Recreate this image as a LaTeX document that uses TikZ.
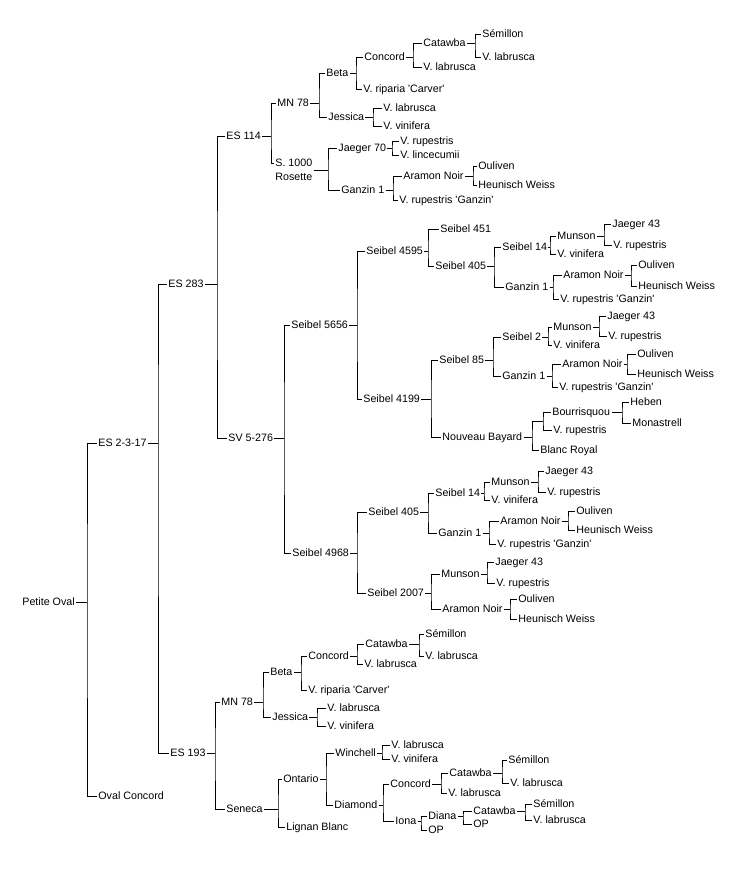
\documentclass[tikz,border=0pt]{standalone}
\usepackage{fontspec}
\setmainfont{Liberation Sans}[Ligatures=TeXOff]
\newcommand\gnode[4]{\node[lbl] (#1) at (#2-1,-#3) {#4};}
\newcommand\gfam[4]{%
  \coordinate (#1x) at (#2,0);
  \draw (#1.east) -- (#1.east -| #1x);
  \draw (#3.west) -| (#1.east -| #1x) |- (#4.west);}
\begin{document}
\begin{tikzpicture}[x=1pt,y=1pt,line width=0.8pt,
  lbl/.style={anchor=west,inner xsep=1pt,inner ysep=0pt,text height=7.8pt,text depth=0.2pt,font=\fontsize{10.7}{14}\selectfont},
  lbltwo/.style={anchor=west,inner xsep=1pt,inner ysep=0pt,align=left,font=\fontsize{10.7}{14}\selectfont}]
\fill[white] (0,0) rectangle (750,-875);
\useasboundingbox (0,0) rectangle (750,-875);
% root
\gnode{po}{22}{602}{Petite Oval}
\gnode{es2317}{98}{443}{ES 2-3-17}
\gnode{ovalc}{98}{796}{Oval Concord}
\gnode{es283}{168}{284}{ES 283}
\gnode{es193}{170}{753}{ES 193}
\gnode{es114}{226}{136}{ES 114}
\gnode{sv}{228}{438}{SV 5-276}
% ES 114 subtree
\gnode{mnA}{277}{103}{MN 78}
\node[lbltwo] (s1000) at (275-1,-170) {S. 1000\\Rosette};
\gnode{betaA}{326}{73}{Beta}
\gnode{jesA}{328}{117}{Jessica}
\gnode{concA}{364}{57}{Concord}
\gnode{ripA}{363}{89}{V. riparia 'Carver'}
\gnode{catA}{423}{43}{Catawba}
\gnode{labAa}{423}{67}{V. labrusca}
\gnode{semA}{482}{34}{Sémillon}
\gnode{labAb}{482}{57}{V. labrusca}
\gnode{labAc}{383}{108}{V. labrusca}
\gnode{vinA}{383}{126}{V. vinifera}
\gnode{jsev}{338}{148}{Jaeger 70}
\gnode{ganA}{341}{190}{Ganzin 1}
\gnode{rupA}{400}{141}{V. rupestris}
\gnode{linA}{400}{155}{V. lincecumii}
\gnode{aramA}{403}{176}{Aramon Noir}
\gnode{rgA}{399}{200}{V. rupestris 'Ganzin'}
\gnode{oulA}{478}{166}{Ouliven}
\gnode{heuA}{478}{185}{Heunisch Weiss}
% SV 5-276 subtree
\gnode{sfivesix}{291}{325}{Seibel 5656}
\gnode{sfournine}{292}{553}{Seibel 4968}
\gnode{sfourfive}{366}{251}{Seibel 4595}
\gnode{sfourone}{363}{399}{Seibel 4199}
\gnode{sfourfiveone}{440}{229}{Seibel 451}
\gnode{sfourohB}{435}{266}{Seibel 405}
\gnode{sfourteenB}{502}{247}{Seibel 14}
\gnode{ganB}{505}{287}{Ganzin 1}
\gnode{munB}{557}{236}{Munson}
\gnode{vinB}{557}{254}{V. vinifera}
\gnode{jfB}{612}{224}{Jaeger 43}
\gnode{rupB}{613}{245}{V. rupestris}
\gnode{aramB}{563}{275}{Aramon Noir}
\gnode{rgB}{560}{299}{V. rupestris 'Ganzin'}
\gnode{oulB}{638}{265}{Ouliven}
\gnode{heuB}{638}{286}{Heunisch Weiss}
\gnode{seightyfive}{439}{360}{Seibel 85}
\gnode{nb}{442}{437}{Nouveau Bayard}
\gnode{stwoC}{502}{337}{Seibel 2}
\gnode{ganC}{502}{376}{Ganzin 1}
\gnode{munC}{553}{327}{Munson}
\gnode{vinC}{553}{345}{V. vinifera}
\gnode{jfC}{607}{316}{Jaeger 43}
\gnode{rupC}{608}{336}{V. rupestris}
\gnode{aramC}{562}{364}{Aramon Noir}
\gnode{rgC}{559}{387}{V. rupestris 'Ganzin'}
\gnode{oulC}{637}{354}{Ouliven}
\gnode{heuC}{637}{374}{Heunisch Weiss}
\gnode{bour}{552}{412}{Bourrisquou}
\gnode{rupD}{553}{430}{V. rupestris}
\gnode{blanc}{540}{450}{Blanc Royal}
\gnode{heben}{630}{402}{Heben}
\gnode{monas}{632}{423}{Monastrell}
\gnode{sfourohE}{368}{512}{Seibel 405}
\gnode{stwok}{367}{593}{Seibel 2007}
\gnode{sfourteenE}{435}{493}{Seibel 14}
\gnode{ganE}{438}{533}{Ganzin 1}
\gnode{munE}{491}{482}{Munson}
\gnode{vinE}{491}{500}{V. vinifera}
\gnode{jfE}{545}{471}{Jaeger 43}
\gnode{rupE}{547}{492}{V. rupestris}
\gnode{aramE}{500}{521}{Aramon Noir}
\gnode{rgE}{497}{544}{V. rupestris 'Ganzin'}
\gnode{oulE}{576}{511}{Ouliven}
\gnode{heuE}{576}{530}{Heunisch Weiss}
\gnode{munF}{441}{574}{Munson}
\gnode{aramF}{442}{609}{Aramon Noir}
\gnode{jfF}{495}{562}{Jaeger 43}
\gnode{rupF}{496}{583}{V. rupestris}
\gnode{oulF}{518}{599}{Ouliven}
\gnode{heuF}{518}{619}{Heunisch Weiss}
% ES 193 subtree
\gnode{mnG}{221}{702}{MN 78}
\gnode{seneca}{226}{809}{Seneca}
\gnode{betaG}{270}{672}{Beta}
\gnode{jesG}{272}{717}{Jessica}
\gnode{concG}{308}{656}{Concord}
\gnode{ripG}{308}{690}{V. riparia 'Carver'}
\gnode{catG}{365}{644}{Catawba}
\gnode{labGa}{364}{664}{V. labrusca}
\gnode{semG}{425}{634}{Sémillon}
\gnode{labGb}{425}{656}{V. labrusca}
\gnode{labGc}{327}{708}{V. labrusca}
\gnode{vinG}{327}{726}{V. vinifera}
\gnode{ont}{283}{779}{Ontario}
\gnode{lignan}{286}{827}{Lignan Blanc}
\gnode{winch}{335}{753}{Winchell}
\gnode{diam}{334}{805}{Diamond}
\gnode{labH}{391}{745}{V. labrusca}
\gnode{vinH}{391}{759}{V. vinifera}
\gnode{concH}{390}{784}{Concord}
\gnode{iona}{395}{821}{Iona}
\gnode{catH}{449}{773}{Catawba}
\gnode{labHa}{448}{793}{V. labrusca}
\gnode{semH}{508}{760}{Sémillon}
\gnode{labHb}{510}{783}{V. labrusca}
\gnode{diana}{428}{816}{Diana}
\gnode{opI}{428}{830}{OP}
\gnode{catI}{473}{811}{Catawba}
\gnode{opJ}{473}{824}{OP}
\gnode{semI}{533}{804}{Sémillon}
\gnode{labI}{533}{820}{V. labrusca}
% families
\gfam{po}{87}{es2317}{ovalc}
\gfam{es2317}{158}{es283}{es193}
\gfam{es283}{217}{es114}{sv}
\coordinate (es114x) at (271,0);
\draw (es114.east) -- (es114.east -| es114x);
\draw (mnA.west) -| (es114.east -| es114x) |- ([yshift=7pt]s1000.west);
\gfam{mnA}{319}{betaA}{jesA}
\gfam{betaA}{356}{concA}{ripA}
\gfam{concA}{413}{catA}{labAa}
\gfam{catA}{475}{semA}{labAb}
\gfam{jesA}{373}{labAc}{vinA}
\gfam{s1000}{328}{jsev}{ganA}
\gfam{jsev}{392}{rupA}{linA}
\gfam{ganA}{393}{aramA}{rgA}
\gfam{aramA}{473}{oulA}{heuA}
\gfam{sv}{284}{sfivesix}{sfournine}
\gfam{sfivesix}{357}{sfourfive}{sfourone}
\gfam{sfourfive}{428}{sfourfiveone}{sfourohB}
\gfam{sfourohB}{494}{sfourteenB}{ganB}
\gfam{sfourteenB}{550}{munB}{vinB}
\gfam{munB}{604}{jfB}{rupB}
\gfam{ganB}{553}{aramB}{rgB}
\gfam{aramB}{631}{oulB}{heuB}
\gfam{sfourone}{431}{seightyfive}{nb}
\gfam{seightyfive}{493}{stwoC}{ganC}
\gfam{stwoC}{548}{munC}{vinC}
\gfam{munC}{599}{jfC}{rupC}
\gfam{ganC}{552}{aramC}{rgC}
\gfam{aramC}{627}{oulC}{heuC}
\coordinate (nbx) at (532,0);
\coordinate (nbj) at (543,-421);
\draw (nb.east) -- (nb.east -| nbx);
\draw (nbj) -| (nb.east -| nbx) |- (blanc.west);
\draw (bour.west) -| (nbj) |- (rupD.west);
\gfam{bour}{622}{heben}{monas}
\gfam{sfournine}{357}{sfourohE}{stwok}
\gfam{sfourohE}{428}{sfourteenE}{ganE}
\gfam{sfourteenE}{484}{munE}{vinE}
\gfam{munE}{538}{jfE}{rupE}
\gfam{ganE}{489}{aramE}{rgE}
\gfam{aramE}{568}{oulE}{heuE}
\gfam{stwok}{431}{munF}{aramF}
\gfam{munF}{487}{jfF}{rupF}
\gfam{aramF}{510}{oulF}{heuF}
\gfam{es193}{215}{mnG}{seneca}
\gfam{mnG}{263}{betaG}{jesG}
\gfam{betaG}{301}{concG}{ripG}
\gfam{concG}{357}{catG}{labGa}
\gfam{catG}{419}{semG}{labGb}
\gfam{jesG}{317}{labGc}{vinG}
\gfam{seneca}{278}{ont}{lignan}
\gfam{ont}{326}{winch}{diam}
\gfam{winch}{382}{labH}{vinH}
\gfam{diam}{383}{concH}{iona}
\gfam{concH}{441}{catH}{labHa}
\gfam{catH}{502}{semH}{labHb}
\gfam{iona}{421}{diana}{opI}
\gfam{diana}{463}{catI}{opJ}
\gfam{catI}{525}{semI}{labI}
\end{tikzpicture}
\end{document}
